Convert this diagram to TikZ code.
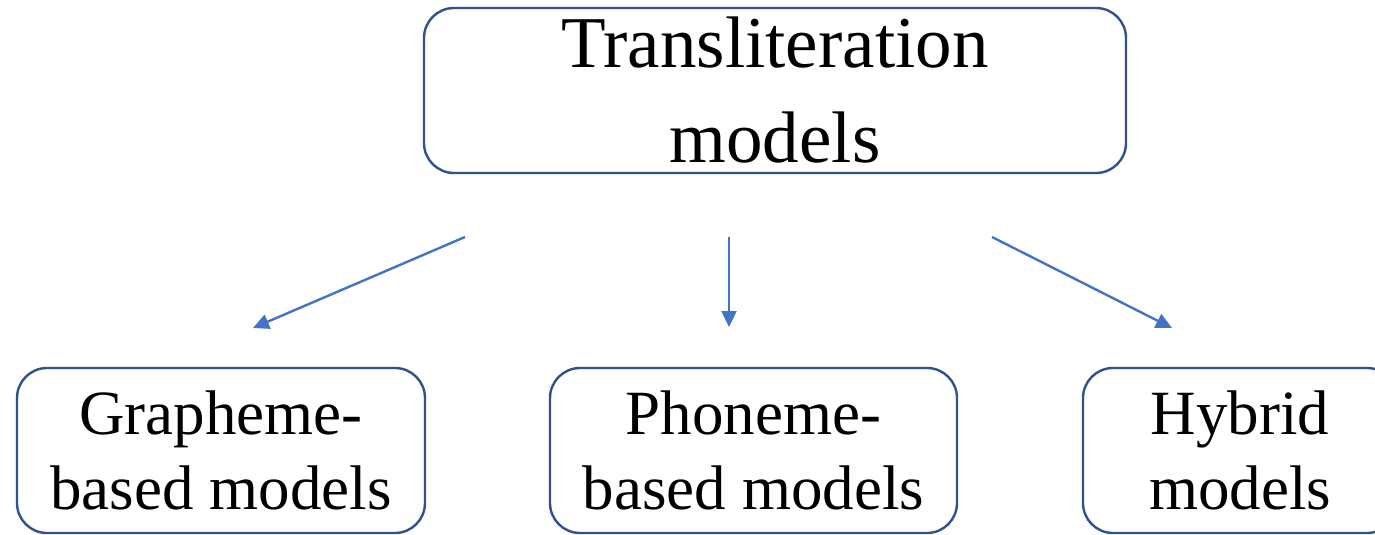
\documentclass[tikz,border=0pt]{standalone}
\usepackage{fontspec}
\setmainfont{Liberation Serif}
\usetikzlibrary{arrows.meta}
\definecolor{boxline}{HTML}{2F528F}
\definecolor{arrowblue}{HTML}{4472C4}
\begin{document}
\begin{tikzpicture}[x=1pt,y=-1pt,
  modelbox/.style={draw=boxline, line width=2.4pt, rounded corners=30pt, inner sep=0pt, align=center, fill=white},
  topfont/.style={font=\fontsize{73}{95}\selectfont},
  lowfont/.style={font=\fontsize{63}{75}\selectfont},
  link/.style={draw=arrowblue, line width=2.4pt, -{Triangle[length=16pt,width=15pt]}}]
\useasboundingbox (0,0) rectangle (1375,535);
\node[modelbox, topfont, minimum width=702pt, minimum height=165pt] (top) at (775,90.5) {Transliteration\\models};
\node[modelbox, lowfont, minimum width=408pt, minimum height=165pt] (graph) at (221,450.5) {\raisebox{-3pt}{Grapheme-}\\\raisebox{-3pt}{based models}};
\node[modelbox, lowfont, minimum width=407pt, minimum height=165pt] (phon) at (753.5,450.5) {\raisebox{-3pt}{Phoneme-}\\\raisebox{-3pt}{based models}};
\node[modelbox, lowfont, minimum width=314pt, minimum height=165pt] (hyb) at (1240,450.5) {\raisebox{-3pt}{Hybrid}\\\raisebox{-3pt}{models}};
\coordinate (a1s) at (465,237);
\coordinate (a1e) at (253,328);
\coordinate (a2s) at (729,237);
\coordinate (a2e) at (729,327);
\coordinate (a3s) at (992,237);
\coordinate (a3e) at (1172,328);
\draw[link] (a1s) -- (a1e);
\draw[link] (a2s) -- (a2e);
\draw[link] (a3s) -- (a3e);
\end{tikzpicture}
\end{document}
